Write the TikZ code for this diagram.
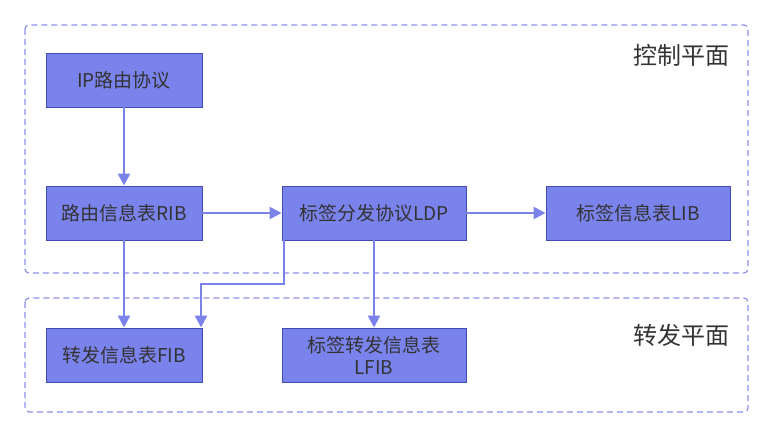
\documentclass[tikz,border=0pt]{standalone}
\usepackage{fontspec}
\setmainfont{Noto Sans CJK SC}
\usetikzlibrary{arrows.meta}
\definecolor{boxfill}{HTML}{7A83EB}
\definecolor{boxedge}{HTML}{3F4DB5}
\definecolor{arrowc}{HTML}{7B83EB}
\definecolor{dashc}{HTML}{8C90EA}
\definecolor{txt}{HTML}{333333}
\tikzset{
  stepbox/.style={draw=boxedge, line width=0.9pt, fill=boxfill, minimum width=156pt, minimum height=54pt, inner sep=0pt, text=txt, font=\fontsize{19pt}{22pt}\selectfont, align=center},
  widebox/.style={stepbox, minimum width=184pt},
  region/.style={draw=dashc, line width=1.2pt, dash pattern=on 6pt off 4pt, rounded corners=4pt},
  conn/.style={draw=arrowc, line width=2.5pt, -{Triangle[length=12pt,width=12pt]}},
  planelabel/.style={text=txt, font=\fontsize{24pt}{28pt}\selectfont, inner sep=0pt}
}
\begin{document}
\begin{tikzpicture}[x=1pt,y=-1pt]
\useasboundingbox (0,0) rectangle (773,438);
\draw[region] (25,25) rectangle (748,273);
\draw[region] (25,298) rectangle (748,412);
\node[planelabel] (ctl) at (681,55) {控制平面};
\node[planelabel] (fwd) at (681,335) {转发平面};
\node[stepbox] (ip) at (124,80) {IP路由协议};
\node[stepbox] (rib) at (124,213) {路由信息表RIB};
\node[widebox] (ldp) at (374,213) {标签分发协议LDP};
\node[widebox] (lib) at (638,213) {标签信息表LIB};
\node[stepbox] (fib) at (124,355) {转发信息表FIB};
\node[widebox] (lfib) at (374,355) {标签转发信息表\\LFIB};
\coordinate (bend1) at (284,284);
\coordinate (bend2) at (201,284);
\draw[conn] (ip) -- (rib);
\draw[conn] (rib) -- (ldp);
\draw[conn] (ldp) -- (lib);
\draw[conn] (rib) -- (fib);
\draw[conn] (ldp) -- (lfib);
\draw[conn] (ldp.south west -| bend1) -- (bend1) -- (bend2) -- (fib.north -| bend2);
\end{tikzpicture}
\end{document}
